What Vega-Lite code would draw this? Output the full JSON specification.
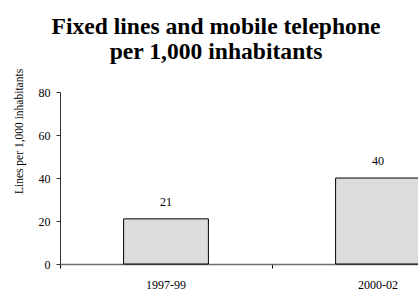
{
  "$schema": "https://vega.github.io/schema/vega-lite/v6.json",
  "autosize": {"type": "none"},
  "padding": {"left": 60, "top": 92, "right": -66, "bottom": 26},
  "width": 424,
  "height": 172,
  "background": "white",
  "title": {
    "text": ["Fixed lines and mobile telephone", "per 1,000 inhabitants"],
    "font": "Liberation Serif",
    "fontSize": 23.6,
    "fontWeight": "bold",
    "lineHeight": 24.5,
    "color": "#000000",
    "anchor": "middle",
    "frame": "group",
    "baseline": "bottom",
    "offset": 30,
    "dx": -56,
    "dy": 49
  },
  "data": {
    "values": [
      {"period": "1997-99", "lines": 21},
      {"period": "2000-02", "lines": 40}
    ]
  },
  "config": {
    "view": {"stroke": null},
    "axis": {"labelFont": "Liberation Serif", "titleFont": "Liberation Serif", "labelColor": "#000000", "titleColor": "#000000", "grid": false}
  },
  "encoding": {
    "x": {
      "field": "period",
      "type": "nominal",
      "sort": null,
      "scale": {"paddingInner": 0, "paddingOuter": 0},
      "axis": {
        "title": null,
        "labelAngle": 0,
        "labelFontSize": 12,
        "labelPadding": 11,
        "tickSize": 4,
        "bandPosition": 0,
        "domainColor": "#6e6e6e",
        "domainWidth": 1.5,
        "tickColor": "#000000",
        "tickWidth": 1
      }
    },
    "y": {
      "field": "lines",
      "type": "quantitative",
      "scale": {"domain": [0, 80]},
      "axis": {
        "title": "Lines per 1,000 inhabitants",
        "titleFontSize": 11.5,
        "titleFontWeight": "normal",
        "titleX": -41,
        "titleY": 39,
        "titleAngle": -90,
        "titleBaseline": "middle",
        "titleAlign": "center",
        "values": [0, 20, 40, 60, 80],
        "labelFontSize": 12,
        "labelPadding": 6,
        "tickSize": 4,
        "domainColor": "#333333",
        "tickColor": "#333333"
      }
    }
  },
  "layer": [
    {
      "mark": {"type": "bar", "fill": "#dcdcdc", "stroke": "#000000", "strokeWidth": 1, "width": {"band": 0.4}}
    },
    {
      "mark": {"type": "text", "baseline": "alphabetic", "dy": -13, "font": "Liberation Serif", "fontSize": 12, "color": "#000000"},
      "encoding": {"text": {"field": "lines", "type": "quantitative"}}
    }
  ]
}
